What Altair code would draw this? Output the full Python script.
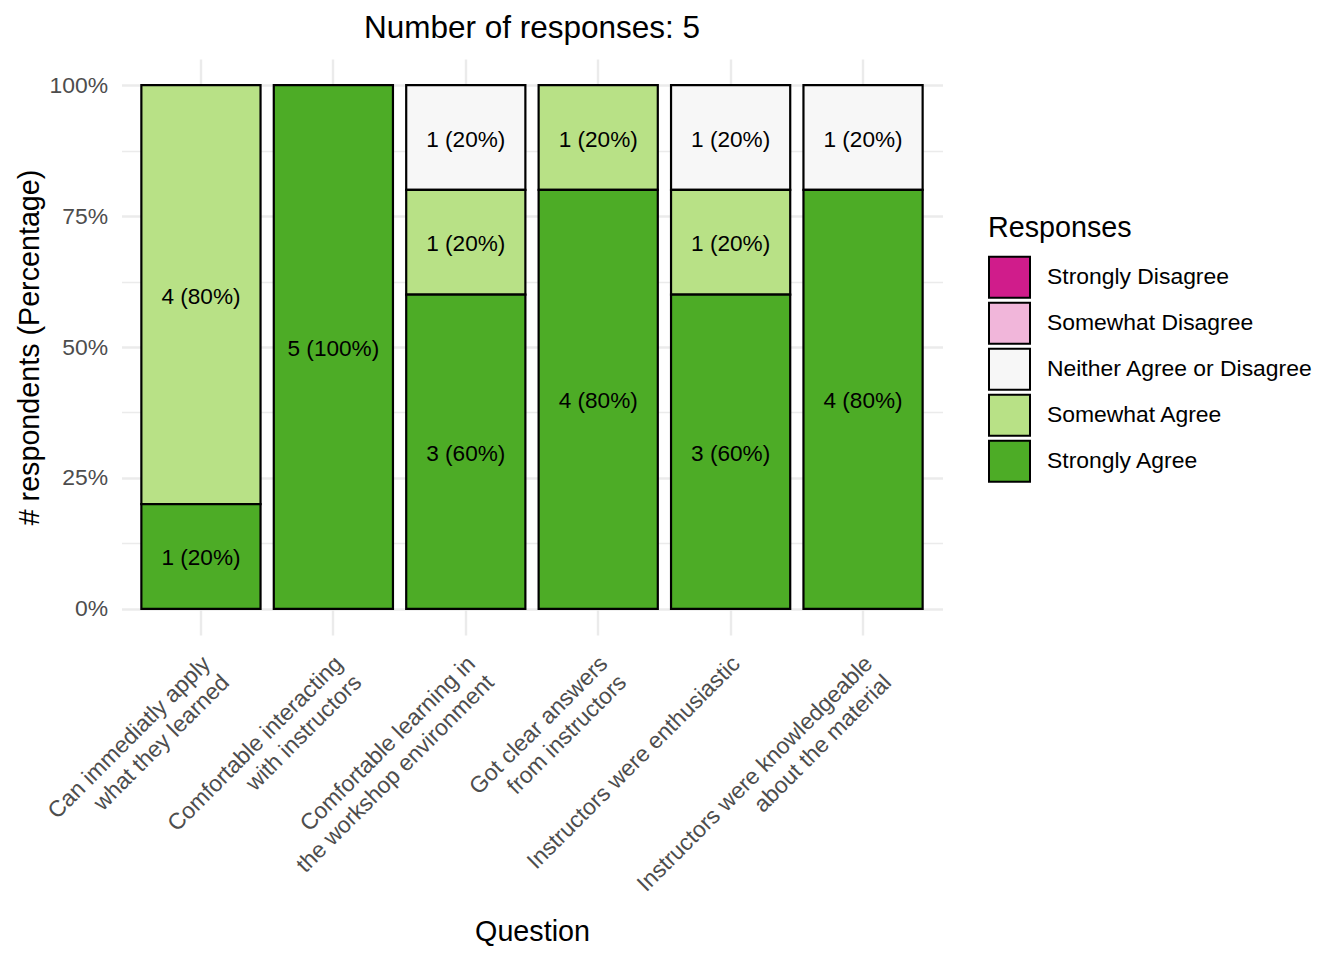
import altair as alt
import pandas as pd

FONT = "Liberation Sans"

questions = [
    "Can immediatly apply|what they learned",
    "Comfortable interacting|with instructors",
    "Comfortable learning in|the workshop environment",
    "Got clear answers|from instructors",
    "Instructors were enthusiastic",
    "Instructors were knowledgeable|about the material",
]
responses = [
    "Strongly Disagree",
    "Somewhat Disagree",
    "Neither Agree or Disagree",
    "Somewhat Agree",
    "Strongly Agree",
]
colors = ["#D01C8B", "#F1B6DA", "#F7F7F7", "#B8E186", "#4DAC26"]

strongly_disagree = [0, 0, 0, 0, 0, 0]
somewhat_disagree = [0, 0, 0, 0, 0, 0]
neither = [0, 0, 1, 0, 1, 1]
somewhat_agree = [4, 0, 1, 1, 1, 0]
strongly_agree = [1, 5, 3, 4, 3, 4]
n_responses = 5

counts = [strongly_disagree, somewhat_disagree, neither, somewhat_agree, strongly_agree]

rows = []
for qi, q in enumerate(questions):
    for ri, r in enumerate(responses):
        c = counts[ri][qi]
        if c > 0:
            p = c / n_responses
            rows.append({
                "question": q,
                "response": r,
                "count": c,
                "pct": p,
                "label": f"{c} ({round(p * 100)}%)",
                "rank": len(responses) - 1 - ri,
            })
df = pd.DataFrame(rows)

base = alt.Chart(df).transform_stack(
    stack="pct",
    groupby=["question"],
    sort=[alt.SortField("rank", order="ascending")],
    as_=["y0", "y1"],
).transform_calculate(ymid="(datum.y0 + datum.y1) / 2")

x_enc = alt.X(
    "question:N",
    sort=questions,
    title="Question",
    scale=alt.Scale(paddingInner=0.1, paddingOuter=0.15),
    axis=alt.Axis(
        labelExpr="split(datum.label, '|')",
        labelAngle=-45,
        labelAlign="right",
        labelBaseline="top",
        labelPadding=17,
        labelOffset=-2,
        labelLineHeight=26.5,
        labelFont=FONT,
        labelFontSize=22.9,
        labelColor="#4D4D4D",
        labelLimit=1000,
        labelOverlap=False,
        labelFlush=False,
        labelBound=False,
        ticks=False,
        domain=False,
        grid=True,
        gridColor="#EBEBEB",
        gridWidth=2.4,
        bandPosition=0.5,
        titleFont=FONT,
        titleFontSize=28.7,
        titleFontWeight="normal",
        titleColor="black",
        titleBaseline="alphabetic",
        titleY=305,
    ),
)

y_scale = alt.Scale(domain=[-0.05, 1.05], nice=False, zero=False)

bars = base.mark_bar(stroke="black", strokeWidth=2.2).encode(
    x=x_enc,
    y=alt.Y(
        "y0:Q",
        scale=y_scale,
        title="# respondents (Percentage)",
        axis=alt.Axis(
            values=[0, 0.125, 0.25, 0.375, 0.5, 0.625, 0.75, 0.875, 1.0],
            format=".0%",
            labelExpr="datum.value % 0.25 === 0 ? datum.label : ''",
            labelFont=FONT,
            labelFontSize=22.9,
            labelColor="#4D4D4D",
            labelPadding=14,
            ticks=False,
            domain=False,
            grid=True,
            gridColor="#EBEBEB",
            gridWidth={"condition": {"test": "datum.value % 0.25 === 0", "value": 2.4}, "value": 1.4},
            titleFont=FONT,
            titleFontSize=28.7,
            titleFontWeight="normal",
            titleColor="black",
            titleBaseline="alphabetic",
            titleX=-83,
            titleY=288,
        ),
    ),
    y2="y1:Q",
    color=alt.Color(
        "response:N",
        scale=alt.Scale(domain=responses, range=colors),
        legend=alt.Legend(
            title="Responses",
            orient="none",
            legendX=866.5,
            legendY=155,
            padding=0,
            titleFont=FONT,
            titleFontSize=28.7,
            titleFontWeight="normal",
            titleColor="black",
            titlePadding=13,
            labelFont=FONT,
            labelFontSize=22.9,
            labelColor="black",
            labelOffset=16,
            labelLimit=1000,
            symbolType="square",
            symbolSize=1681,
            symbolStrokeColor="black",
            symbolStrokeWidth=2,
            symbolOpacity=1,
            rowPadding=-3,
            values=responses,
        ),
    ),
)

text = base.mark_text(font=FONT, fontSize=22.6, color="black", dy=2).encode(
    x=alt.X("question:N", sort=questions),
    y=alt.Y("ymid:Q", scale=y_scale),
    text="label:N",
)

chart = alt.layer(bars, text).properties(
    width=821,
    height=576,
    autosize=alt.AutoSizeParams(type="none"),
    padding={"left": 113.5, "top": 51, "right": 380, "bottom": 312},
    title=alt.TitleParams(
        text="Number of responses: 5",
        font=FONT,
        fontSize=31.5,
        fontWeight="normal",
        color="black",
        anchor="middle",
        frame="group",
        offset=15,
    ),
).configure_view(stroke=None)

chart.save("out.html", embed_options={"renderer": "svg", "actions": False})
